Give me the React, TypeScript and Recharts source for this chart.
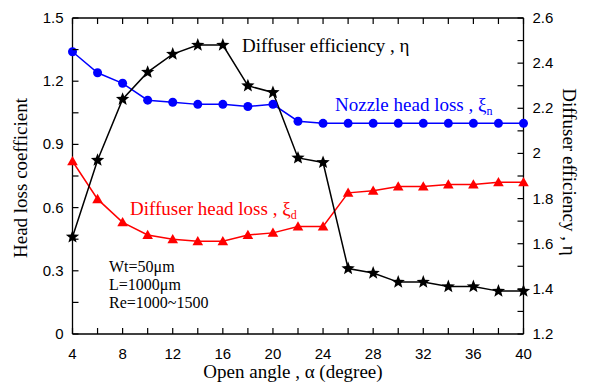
import React from "react";
import { ComposedChart, Line, XAxis, YAxis } from "recharts";

// Open angle (degree) vs. head loss coefficients (left axis) and diffuser efficiency (right axis)
const ANGLES = [4, 6, 8, 10, 12, 14, 16, 18, 20, 22, 24, 26, 28, 30, 32, 34, 36, 38, 40];
const NOZZLE_LOSS = [1.34, 1.24, 1.19, 1.11, 1.1, 1.09, 1.09, 1.08, 1.09, 1.01, 1.0, 1.0, 1.0, 1.0, 1.0, 1.0, 1.0, 1.0, 1.0];
const DIFFUSER_LOSS = [0.82, 0.64, 0.53, 0.47, 0.45, 0.44, 0.44, 0.47, 0.48, 0.51, 0.51, 0.67, 0.68, 0.7, 0.7, 0.71, 0.71, 0.72, 0.72];
const EFFICIENCY = [1.63, 1.97, 2.24, 2.36, 2.44, 2.48, 2.48, 2.3, 2.27, 1.98, 1.96, 1.49, 1.47, 1.43, 1.43, 1.41, 1.41, 1.39, 1.39];

const X_TICKS = [4, 6, 8, 10, 12, 14, 16, 18, 20, 22, 24, 26, 28, 30, 32, 34, 36, 38, 40];
const LEFT_TICKS = [0, 0.15, 0.3, 0.45, 0.6, 0.75, 0.9, 1.05, 1.2, 1.35, 1.5];
const LEFT_LABELS = [0, 0.3, 0.6, 0.9, 1.2, 1.5];
const RIGHT_TICKS = [1.2, 1.3, 1.4, 1.5, 1.6, 1.7, 1.8, 1.9, 2.0, 2.1, 2.2, 2.3, 2.4, 2.5, 2.6];
const RIGHT_LABELS = [1.2, 1.4, 1.6, 1.8, 2.0, 2.2, 2.4, 2.6];

const data = ANGLES.map((a, i) => ({
  angle: a,
  nozzle: NOZZLE_LOSS[i],
  diffuser: DIFFUSER_LOSS[i],
  eff: EFFICIENCY[i],
}));

const SANS = "Liberation Sans, Arial, sans-serif";
const SERIF = "Liberation Serif, Times New Roman, serif";
const TICK = 6;

const tickText = { fontFamily: SANS, fontSize: 15 };
const titleText = { fontFamily: SERIF, fontSize: 19 };
const noteText = { fontFamily: SERIF, fontSize: 16 };

const hasLabel = (v: number, list: number[]) => list.some((l) => Math.abs(l - v) < 1e-6);

const BottomTick = (p: any) => {
  const v = p.payload.value;
  return (
    <g>
      <line x1={p.x} y1={p.y} x2={p.x} y2={p.y - TICK} stroke="#000" strokeWidth={1.2} />
      {v % 4 === 0 && (
        <text x={p.x} y={p.y + 25} textAnchor="middle" style={tickText} fill="#000">
          {v}
        </text>
      )}
    </g>
  );
};

const TopTick = (p: any) => (
  <line x1={p.x} y1={p.y} x2={p.x} y2={p.y + TICK} stroke="#000" strokeWidth={1.2} />
);

const LeftTick = (p: any) => {
  const v = p.payload.value;
  return (
    <g>
      <line x1={p.x} y1={p.y} x2={p.x + TICK} y2={p.y} stroke="#000" strokeWidth={1.2} />
      {hasLabel(v, LEFT_LABELS) && (
        <text x={p.x - 9} y={p.y + 5} textAnchor="end" style={tickText} fill="#000">
          {Number(v.toFixed(2))}
        </text>
      )}
    </g>
  );
};

const RightTick = (p: any) => {
  const v = p.payload.value;
  return (
    <g>
      <line x1={p.x} y1={p.y} x2={p.x - TICK} y2={p.y} stroke="#000" strokeWidth={1.2} />
      {hasLabel(v, RIGHT_LABELS) && (
        <text x={p.x + 9} y={p.y + 5} textAnchor="start" style={tickText} fill="#000">
          {Number(v.toFixed(2))}
        </text>
      )}
    </g>
  );
};

const CircleDot = (p: any) => <circle key={p.index} cx={p.cx} cy={p.cy} r={4.5} fill="#0000ff" />;

const TriangleDot = (p: any) => {
  const s = 5.3;
  return (
    <path
      key={p.index}
      d={`M${p.cx},${p.cy - s} L${p.cx + s},${p.cy + s * 0.75} L${p.cx - s},${p.cy + s * 0.75} Z`}
      fill="#ff0000"
    />
  );
};

const StarDot = (p: any) => {
  const R = 7;
  const r = 3;
  const pts: string[] = [];
  for (let k = 0; k < 10; k++) {
    const rad = k % 2 === 0 ? R : r;
    const ang = -Math.PI / 2 + (k * Math.PI) / 5;
    pts.push(`${p.cx + rad * Math.cos(ang)},${p.cy + rad * Math.sin(ang)}`);
  }
  return <polygon key={p.index} points={pts.join(" ")} fill="#000" />;
};

export default function App() {
  return (
    <div style={{ position: "absolute", left: 0, top: 0, width: 589, height: 392, background: "#fff" }}>
      <ComposedChart
        width={589}
        height={392}
        data={data}
        margin={{ top: 17, right: 64.5, bottom: 57, left: 71.5 }}
      >
        <XAxis
          xAxisId="b"
          dataKey="angle"
          type="number"
          domain={[4, 40]}
          ticks={X_TICKS}
          height={1}
          tickSize={0}
          tickMargin={0}
          tickLine={false}
          tick={<BottomTick />}
          axisLine={{ stroke: "#000", strokeWidth: 1.3 }}
          interval={0}
        />
        <XAxis
          xAxisId="t"
          orientation="top"
          dataKey="angle"
          type="number"
          domain={[4, 40]}
          ticks={X_TICKS}
          height={1}
          tickSize={0}
          tickMargin={0}
          tickLine={false}
          tick={<TopTick />}
          axisLine={{ stroke: "#000", strokeWidth: 1.3 }}
          interval={0}
        />
        <YAxis
          yAxisId="l"
          domain={[0, 1.5]}
          ticks={LEFT_TICKS}
          width={1}
          tickSize={0}
          tickMargin={0}
          tickLine={false}
          tick={<LeftTick />}
          axisLine={{ stroke: "#000", strokeWidth: 1.3 }}
          interval={0}
        />
        <YAxis
          yAxisId="r"
          orientation="right"
          domain={[1.2, 2.6]}
          ticks={RIGHT_TICKS}
          width={1}
          tickSize={0}
          tickMargin={0}
          tickLine={false}
          tick={<RightTick />}
          axisLine={{ stroke: "#000", strokeWidth: 1.3 }}
          interval={0}
        />
        <Line
          xAxisId="b"
          yAxisId="l"
          dataKey="nozzle"
          type="linear"
          stroke="#0000ff"
          strokeWidth={1.5}
          dot={<CircleDot />}
          activeDot={false}
          isAnimationActive={false}
        />
        <Line
          xAxisId="b"
          yAxisId="l"
          dataKey="diffuser"
          type="linear"
          stroke="#ff0000"
          strokeWidth={1.5}
          dot={<TriangleDot />}
          activeDot={false}
          isAnimationActive={false}
        />
        <Line
          xAxisId="b"
          yAxisId="r"
          dataKey="eff"
          type="linear"
          stroke="#000"
          strokeWidth={1.5}
          dot={<StarDot />}
          activeDot={false}
          isAnimationActive={false}
        />
      </ComposedChart>
      <svg
        width={589}
        height={392}
        style={{ position: "absolute", left: 0, top: 0, pointerEvents: "none" }}
      >
        <text x={242} y={52} style={titleText} fill="#000">Diffuser efficiency , η</text>
        <text x={335} y={111} style={titleText} fill="#0000ff">
          Nozzle head loss , ξ<tspan style={{ fontSize: 12 }} dy={4}>n</tspan>
        </text>
        <text x={130} y={215} style={titleText} fill="#ff0000">
          Diffuser head loss , ξ<tspan style={{ fontSize: 12 }} dy={4}>d</tspan>
        </text>
        <text x={293} y={378} textAnchor="middle" style={titleText} fill="#000">
          Open angle , α (degree)
        </text>
        <text x={27} y={178} textAnchor="middle" transform="rotate(-90 27 178)" style={titleText} fill="#000">
          Head loss coefficient
        </text>
        <text x={563} y={172} textAnchor="middle" transform="rotate(90 563 172)" style={titleText} fill="#000">
          Diffuser efficiency , η
        </text>
        <text x={109} y={272} style={noteText} fill="#000">Wt=50μm</text>
        <text x={109} y={290} style={noteText} fill="#000">L=1000μm</text>
        <text x={109} y={308} style={noteText} fill="#000">Re=1000~1500</text>
      </svg>
    </div>
  );
}
